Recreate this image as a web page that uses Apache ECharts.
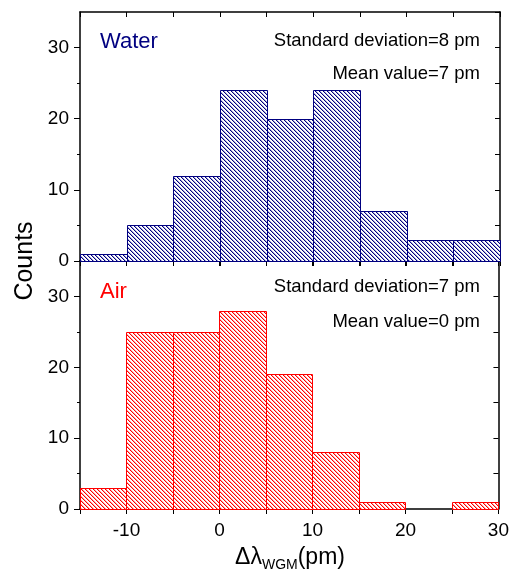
<!DOCTYPE html>
<html>
<head>
<meta charset="utf-8" />
<title>Counts histogram</title>
<script src="https://cdn.jsdelivr.net/npm/echarts@6/dist/echarts.min.js"></script>
<style>
  html, body { margin: 0; padding: 0; background: #fff; }
  #main { width: 512px; height: 579px; }
</style>
</head>
<body>
<div id="main"></div>
<script>
// bins of width 5 pm, left edges
var binStart = [-15, -10, -5, 0, 5, 10, 15, 20, 25];
var binWidth = 5;
var waterCounts = [1, 5, 12, 24, 20, 24, 7, 3, 3];
var airCounts = [3, 25, 25, 28, 19, 8, 1, 0, 1];

var xLabelValues = [-10, 0, 10, 20, 30];
var yMajorValues = [0, 10, 20, 30];
var yMinorValues = [5, 15, 25];

var blue = '#000080';
var red = '#ff0000';
var font = '"Liberation Sans", Arial, sans-serif';

function hatch(color) {
  var c = document.createElement('canvas');
  c.width = 4; c.height = 4;
  var g = c.getContext('2d');
  g.fillStyle = '#fff';
  g.fillRect(0, 0, 4, 4);
  g.fillStyle = color;
  for (var i = 0; i < 4; i++) {
    g.globalAlpha = 1;
    g.fillRect(i, i, 1, 1);
    g.globalAlpha = 0.35;
    g.fillRect((i + 1) % 4, i, 1, 1);
  }
  return c;
}

function toData(counts) {
  return binStart.map(function (s, i) { return [s, s + binWidth, counts[i]]; });
}

function makeRender(color) {
  var pattern = { image: hatch(color), repeat: 'repeat' };
  return function (params, api) {
    if (!api.value(2)) return null;
    var p0 = api.coord([api.value(0), 0]);
    var p1 = api.coord([api.value(1), api.value(2)]);
    var x0 = Math.round(p0[0]) + 0.5, x1 = Math.round(p1[0]) + 0.5;
    var y0 = Math.round(p0[1]) + 0.5, y1 = Math.round(p1[1]) + 0.5;
    return {
      type: 'rect',
      shape: { x: x0, y: y1, width: x1 - x0, height: y0 - y1 },
      style: { fill: pattern, stroke: color, lineWidth: 1 }
    };
  };
}

var axisLine = { onZero: false, lineStyle: { color: '#000', width: 1.5 } };
var tickStyle = { color: '#000', width: 1 };

function xAxis(grid, pos, inside, labels) {
  return {
    type: 'value', gridIndex: grid, position: pos,
    min: -15, max: 30, interval: 5,
    splitLine: { show: false },
    axisLine: axisLine,
    axisTick: { inside: inside, length: 5, lineStyle: tickStyle },
    axisLabel: labels ? {
      customValues: xLabelValues, fontSize: 19, fontFamily: font, color: '#000', margin: 12
    } : { show: false }
  };
}

function yAxes(grid) {
  return [
    {
      type: 'value', gridIndex: grid, position: 'left', min: 0, max: 35,
      splitLine: { show: false }, axisLine: axisLine,
      axisTick: { customValues: yMajorValues, length: 6, lineStyle: tickStyle },
      axisLabel: { customValues: yMajorValues, fontSize: 19, fontFamily: font, color: '#000', margin: 11 }
    },
    {
      type: 'value', gridIndex: grid, position: 'left', min: 0, max: 35,
      splitLine: { show: false }, axisLine: { show: false, onZero: false },
      axisTick: { customValues: yMinorValues, length: 3, lineStyle: tickStyle },
      axisLabel: { show: false }
    },
    {
      type: 'value', gridIndex: grid, position: 'right', min: 0, max: 35, interval: 5,
      splitLine: { show: false }, axisLine: axisLine,
      axisTick: { inside: true, length: 5, lineStyle: tickStyle },
      axisLabel: { show: false }
    }
  ];
}

function txt(text, x, y, size, color, align, extra) {
  var t = {
    type: 'text', x: x, y: y,
    style: {
      text: text, fill: color, font: size + 'px ' + font,
      align: align, verticalAlign: 'middle'
    }
  };
  return Object.assign(t, extra || {});
}

var chart = echarts.init(document.getElementById('main'));
chart.setOption({
  animation: false,
  grid: [
    { left: 80, width: 420, top: 12, height: 249 },
    { left: 80, width: 420, top: 261, height: 248 }
  ],
  xAxis: [
    xAxis(0, 'bottom', false, false),
    xAxis(0, 'top', true, false),
    xAxis(1, 'bottom', false, true),
    xAxis(1, 'top', true, false)
  ],
  yAxis: yAxes(0).concat(yAxes(1)),
  series: [
    {
      name: 'Water', type: 'custom', xAxisIndex: 0, yAxisIndex: 0,
      renderItem: makeRender(blue), encode: { x: [0, 1], y: 2 },
      data: toData(waterCounts)
    },
    {
      name: 'Air', type: 'custom', xAxisIndex: 2, yAxisIndex: 3,
      renderItem: makeRender(red), encode: { x: [0, 1], y: 2 },
      data: toData(airCounts)
    }
  ],
  graphic: [
    txt('Water', 100, 42, 22, blue, 'left'),
    txt('Standard deviation=8 pm', 480, 41, 18.5, '#000', 'right'),
    txt('Mean value=7 pm', 480, 74, 18.5, '#000', 'right'),
    txt('Air', 100, 292, 22, red, 'left'),
    txt('Standard deviation=7 pm', 480, 287, 18.5, '#000', 'right'),
    txt('Mean value=0 pm', 480, 322, 18.5, '#000', 'right'),
    txt('Counts', 25, 261, 25, '#000', 'center', { rotation: Math.PI / 2 }),
    {
      type: 'text', x: 290, y: 558,
      style: {
        text: '{a|Δλ}{s|WGM}{a|(pm)}',
        align: 'center', verticalAlign: 'middle',
        rich: {
          a: { fontSize: 23, fontFamily: font, fill: '#000' },
          s: { fontSize: 14, fontFamily: font, fill: '#000', padding: [14, 0, 0, 0] }
        }
      }
    }
  ]
});
</script>
</body>
</html>
